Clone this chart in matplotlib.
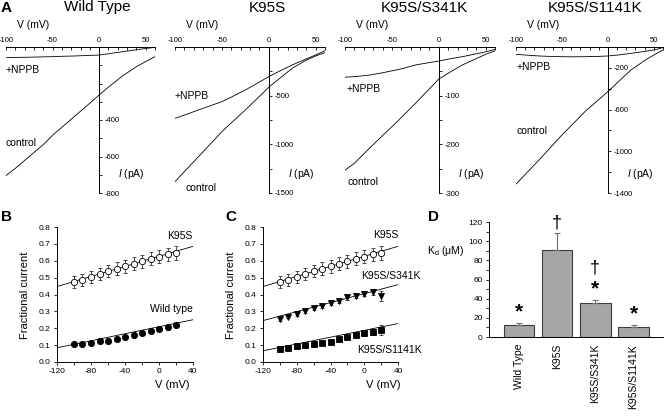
import numpy as np
import matplotlib
matplotlib.use("Agg")
from matplotlib import pyplot as plt
from matplotlib.ticker import FixedLocator, FormatStrFormatter, MultipleLocator

plt.rcParams['font.family'] = ['Liberation Sans', 'DejaVu Sans']
plt.rcParams['mathtext.fontset'] = 'custom'
plt.rcParams['mathtext.rm'] = 'Liberation Sans'
plt.rcParams['mathtext.it'] = 'Liberation Sans:italic'
plt.rcParams['axes.unicode_minus'] = False
plt.rcParams['axes.linewidth'] = 0.7

# ---- panel A: I-V traces (control and +NPPB) ----
v_trace = [-100, -90, -75, -60, -50, -40, -25, -10, 0, 10, 25, 40, 50, 60]

wt_control = [-705, -665, -600, -535, -484, -440, -374, -308, -263, -220, -159, -108, -80, -53]
wt_nppb = [-57, -57, -56, -54, -53, -51, -49, -46, -44, -37, -26, -15, -8, -2]

k95s_control = [-1384, -1280, -1127, -973, -870, -780, -647, -508, -414, -335, -219, -135, -92, -58]
k95s_nppb = [-733, -700, -647, -596, -562, -515, -442, -360, -305, -255, -185, -122, -82, -38]

s341k_control = [-253, -239, -210, -182, -164, -145, -116, -86, -66, -54, -37, -24, -15, -8]
s341k_nppb = [-62, -61, -58, -53, -49, -45, -37, -32, -29, -25, -20, -14, -10, -5]

s1141k_control = [-1314, -1222, -1084, -940, -844, -755, -620, -505, -428, -345, -221, -130, -77, -29]
s1141k_nppb = [-70, -77, -86, -91, -93, -94, -93, -90, -86, -78, -61, -42, -29, -6]

trace_titles = ['Wild Type', 'K95S', 'K95S/S341K', 'K95S/S1141K']

# ---- panels B, C: fractional current ----
v_frac = [-100, -90, -80, -70, -60, -50, -40, -30, -20, -10, 0, 10, 20]
frac_k95s = [0.472, 0.485, 0.502, 0.520, 0.538, 0.553, 0.568, 0.583, 0.597, 0.612, 0.625, 0.638, 0.647]
err_k95s = [0.035, 0.035, 0.036, 0.036, 0.037, 0.037, 0.038, 0.038, 0.038, 0.039, 0.039, 0.040, 0.040]
frac_wt = [0.105, 0.109, 0.115, 0.123, 0.127, 0.136, 0.149, 0.161, 0.171, 0.184, 0.195, 0.206, 0.222]
err_wt = [0.008, 0.008, 0.008, 0.009, 0.009, 0.009, 0.010, 0.010, 0.011, 0.012, 0.013, 0.014, 0.016]
frac_s341k = [0.254, 0.268, 0.284, 0.300, 0.319, 0.333, 0.349, 0.361, 0.383, 0.393, 0.405, 0.417, 0.393]
err_s341k = [0.010, 0.010, 0.011, 0.011, 0.011, 0.012, 0.012, 0.012, 0.013, 0.014, 0.015, 0.018, 0.030]
frac_s1141k = [0.075, 0.081, 0.093, 0.099, 0.105, 0.113, 0.121, 0.135, 0.149, 0.161, 0.171, 0.179, 0.190]
err_s1141k = [0.006, 0.006, 0.006, 0.006, 0.007, 0.007, 0.008, 0.009, 0.010, 0.012, 0.014, 0.018, 0.028]

# linear fits: (value at 0 mV, slope per mV)
fit_k95s = (0.626, 0.00149)
fit_wt = (0.209, 0.00104)
fit_s341k = (0.405, 0.00133)
fit_s1141k = (0.1875, 0.00101)

# ---- panel D: Kd ----
kd_labels = ['Wild Type', 'K95S', 'K95S/S341K', 'K95S/S1141K']
kd_vals = [12.2, 90.9, 36.0, 10.5]
kd_err = [2.1, 17.8, 2.5, 2.1]
kd_marks = [['*'], ['\u2020'], ['*', '\u2020'], ['*']]

W, H = 664, 418
fig = plt.figure(figsize=(W / 100, H / 100), dpi=100)


def px_axes(l, t, r, b):
    return fig.add_axes([l / W, 1 - b / H, (r - l) / W, (b - t) / H])


def ftext(x, y, s, **kw):
    return fig.text(x / W, 1 - y / H, s, **kw)


# panel A
a_boxes = [(6, 155), (175, 325), (345, 495), (516, 663)]
a_ylims = [-800, -1500, -300, -1400]
a_major = [[-400, -600, -800], [-500, -1000, -1500], [-100, -200, -300], [-200, -600, -1000, -1400]]
a_minor = [[-100, -200, -300, -500, -700], [-250, -750, -1250], [-50, -150, -250], [-400, -800, -1200]]
a_title_x = [97, 267, 424, 595]
a_nppb_pos = [(-100, -126), (-100, -503), (-98, -86), (-99, -192)]
a_ctrl_pos = [(-100, -526), (-89, -1449), (-97, -277), (-99, -805)]
traces = [(wt_control, wt_nppb), (k95s_control, k95s_nppb),
          (s341k_control, s341k_nppb), (s1141k_control, s1141k_nppb)]

for i, (l, r) in enumerate(a_boxes):
    ax = px_axes(l, 47, r, 193)
    ctrl, nppb = traces[i]
    ax.plot(v_trace, ctrl, color='k', lw=0.6)
    ax.plot(v_trace, nppb, color='k', lw=0.6)
    ax.set_xlim(-100, 60)
    ax.set_ylim(a_ylims[i], 0)
    ax.patch.set_visible(False)
    ax.spines['left'].set_visible(False)
    ax.spines['bottom'].set_visible(False)
    ax.spines['right'].set_position(('data', 0))
    ax.xaxis.set_ticks_position('top')
    ax.yaxis.set_ticks_position('right')
    ax.set_xticks([-100, -50, 0, 50])
    ax.xaxis.set_minor_locator(MultipleLocator(10))
    ax.yaxis.set_major_locator(FixedLocator(a_major[i]))
    ax.yaxis.set_minor_locator(FixedLocator(a_minor[i]))
    ax.tick_params(axis='x', which='both', direction='in', length=2, width=0.6,
                   labelsize=5.5, pad=2)
    ax.tick_params(axis='y', which='both', direction='out', length=2.5, width=0.6,
                   labelsize=5.5, pad=1.5)
    ax.text(*a_nppb_pos[i], '+NPPB', fontsize=7.5, ha='left', va='center')
    ax.text(*a_ctrl_pos[i], 'control', fontsize=7.5, ha='left', va='center')
    ax.text(35, 0.13, r'$\it{I}$ (pA)', fontsize=7.5, ha='center', va='center',
            transform=ax.get_xaxis_transform())
    ftext(a_title_x[i], 11.5, trace_titles[i], fontsize=11, ha='center', va='baseline')
    ftext(l + 27, 25, 'V (mV)', fontsize=7.5, ha='center', va='center')

ftext(1, 11.5, 'A', fontsize=11, fontweight='bold', ha='left', va='baseline')


def frac_axes(ax):
    ax.set_xlim(-120, 40)
    ax.set_ylim(0, 0.8)
    ax.spines['top'].set_visible(False)
    ax.spines['right'].set_visible(False)
    ax.set_xticks([-120, -80, -40, 0, 40])
    ax.xaxis.set_minor_locator(MultipleLocator(20))
    ax.yaxis.set_major_locator(MultipleLocator(0.1))
    ax.yaxis.set_major_formatter(FormatStrFormatter('%.1f'))
    ax.tick_params(which='both', direction='out', length=2.5, width=0.6,
                   labelsize=6, pad=2)


def frac_series(ax, y, err, fit, marker, ms, filled):
    v_fit = np.array([-120, 40])
    ax.plot(v_fit, fit[0] + fit[1] * v_fit, color='k', lw=0.6, zorder=1)
    ax.errorbar(v_frac, y, yerr=err, fmt=marker, ms=ms,
                mfc='k' if filled else 'white', mec='k', mew=0.6,
                ecolor='#333333', elinewidth=0.6, capsize=1.6, capthick=0.6,
                zorder=3)


# panel B
axb = px_axes(57, 227, 193, 362)
frac_axes(axb)
frac_series(axb, frac_k95s, err_k95s, fit_k95s, 'o', 4.5, False)
frac_series(axb, frac_wt, err_wt, fit_wt, 'o', 4.5, True)
axb.text(40, 0.745, 'K95S', fontsize=7.5, ha='right', va='center')
axb.text(40, 0.314, 'Wild type', fontsize=7.5, ha='right', va='center')
ftext(1, 221, 'B', fontsize=11, fontweight='bold', ha='left', va='baseline')
ftext(25, 295, 'Fractional current', fontsize=8, rotation=90, ha='center', va='center')
ftext(172, 385, 'V (mV)', fontsize=8, ha='center', va='center')

# panel C
axc = px_axes(263, 227, 398, 362)
frac_axes(axc)
frac_series(axc, frac_k95s, err_k95s, fit_k95s, 'o', 4.5, False)
frac_series(axc, frac_s341k, err_s341k, fit_s341k, 'v', 4.5, True)
frac_series(axc, frac_s1141k, err_s1141k, fit_s1141k, 's', 4, True)
axc.text(40, 0.75, 'K95S', fontsize=7.5, ha='right', va='center')
axc.text(31, 0.51, 'K95S/S341K', fontsize=7.5, ha='center', va='center', clip_on=False)
axc.text(30, 0.071, 'K95S/S1141K', fontsize=7.5, ha='center', va='center', clip_on=False)
ftext(225, 221, 'C', fontsize=11, fontweight='bold', ha='left', va='baseline')
ftext(231, 295, 'Fractional current', fontsize=8, rotation=90, ha='center', va='center')
ftext(383, 385, 'V (mV)', fontsize=8, ha='center', va='center')

# panel D
axd = px_axes(489, 222, 663, 337)
x = np.arange(len(kd_vals))
axd.bar(x, kd_vals, width=0.8, color='#a6a6a6', edgecolor='#3c3c3c', linewidth=0.8,
        yerr=[np.zeros(len(kd_err)), kd_err],
        error_kw=dict(ecolor='#6e6e6e', elinewidth=0.8, capsize=2, capthick=0.8))
for i, marks in enumerate(kd_marks):
    for j, m in enumerate(marks):
        axd.annotate(m, xy=(i, kd_vals[i] + kd_err[i]), xytext=(0, 4 + 16 * j),
                     textcoords='offset points', ha='center', va='baseline',
                     fontsize=15 if m == '*' else 13, fontweight='bold' if m == '*' else 'normal',
                     annotation_clip=False)
axd.set_xlim(-0.78, 3.77)
axd.set_ylim(0, 120)
axd.spines['top'].set_visible(False)
axd.spines['right'].set_visible(False)
axd.set_xticks(x)
axd.set_xticklabels(kd_labels, rotation=90, fontsize=7.5)
axd.yaxis.set_major_locator(MultipleLocator(20))
axd.yaxis.set_minor_locator(MultipleLocator(10))
axd.tick_params(axis='x', length=0, pad=5)
axd.tick_params(axis='y', which='both', direction='out', length=2.5, width=0.6,
                labelsize=6, pad=2)
ftext(428, 221, 'D', fontsize=11, fontweight='bold', ha='left', va='baseline')
ftext(446, 251, 'K$_{\\mathrm{d}}$ (\u03bcM)', fontsize=7.5, ha='center', va='center')

fig.savefig('out.png', dpi=100)
